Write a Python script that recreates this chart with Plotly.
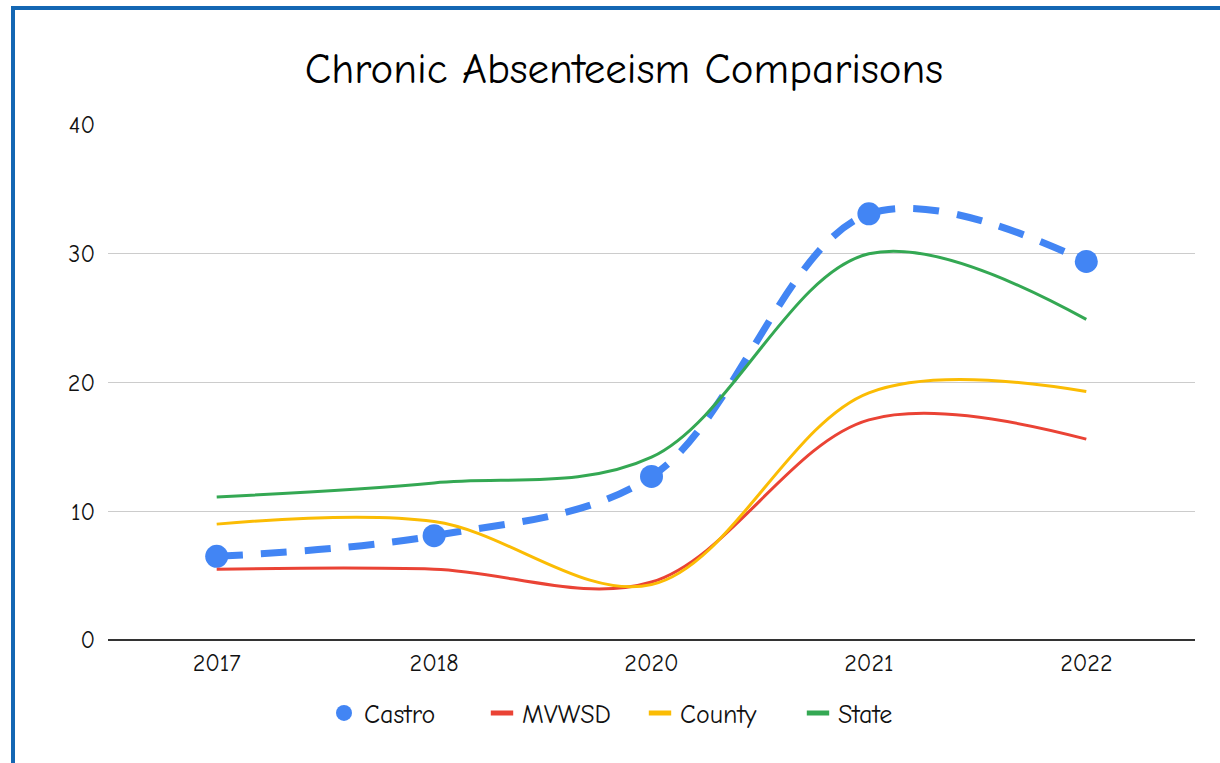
import plotly.graph_objects as go

# School years shown on the category axis
years = ["2017", "2018", "2020", "2021", "2022"]

# Chronic absenteeism rate (%) per group
castro = [6.5, 8.1, 12.7, 33.1, 29.4]
mvwsd = [5.5, 5.5, 4.5, 17.1, 15.6]
county = [9.0, 9.2, 4.3, 19.2, 19.3]
state = [11.1, 12.2, 14.2, 30.0, 24.9]

y_ticks = [0, 10, 20, 30, 40]

FONT = "Comic Sans MS, Comic Neue, Chalkboard, Lato, sans-serif"

fig = go.Figure()

line_series = [
    ("MVWSD", mvwsd, "#EA4335"),
    ("County", county, "#FBBC04"),
    ("State", state, "#34A853"),
]

# Castro: thick dashed smoothed line with round markers
fig.add_trace(go.Scatter(
    x=years, y=castro, name="Castro", mode="lines+markers",
    line=dict(color="#4285F4", width=7, dash="26px,18px", shape="spline", smoothing=1),
    marker=dict(color="#4285F4", size=23),
    showlegend=False,
))

for name, vals, color in line_series:
    fig.add_trace(go.Scatter(
        x=years, y=vals, name=name, mode="lines",
        line=dict(color=color, width=3, shape="spline", smoothing=1),
        showlegend=False,
    ))

# legend keys: round dot for Castro, short thick bars for the others
fig.add_trace(go.Scatter(
    x=[None], y=[None], name="Castro", mode="markers",
    marker=dict(color="#4285F4", size=25),
))
for name, _, color in line_series:
    fig.add_trace(go.Scatter(
        x=[None], y=[None], name=name, mode="markers",
        marker=dict(symbol="line-ew", size=26, line=dict(color=color, width=7)),
    ))

# plot area geometry (pixels) used for the outer frame
L, R, T, B = 108, 25, 125, 123
W, H = 1220, 763
pw, ph = W - L - R, H - T - B

def px_x(x):
    return (x - L) / pw

def px_y(y):
    return (H - B - y) / ph

fig.add_shape(
    type="rect", xref="paper", yref="paper",
    x0=px_x(13), x1=px_x(1250), y0=px_y(790), y1=px_y(8),
    line=dict(color="#1467B3", width=4), fillcolor="rgba(0,0,0,0)",
    layer="below",
)

fig.update_layout(
    width=W, height=H,
    margin=dict(l=L, r=R, t=T, b=B),
    paper_bgcolor="white", plot_bgcolor="white",
    title=dict(
        text="Chronic Absenteeism Comparisons",
        font=dict(family=FONT, size=43, color="#000000"),
        xref="container", x=624 / W, xanchor="center",
        yref="container", y=1 - 68 / H, yanchor="middle",
    ),
    legend=dict(
        orientation="h",
        xref="container", x=640 / W, xanchor="center",
        yref="container", y=1 - 713 / H, yanchor="middle",
        font=dict(family=FONT, size=26, color="#111111"),
        itemwidth=30, traceorder="normal",
        entrywidth=113, entrywidthmode="pixels",
    ),
    xaxis=dict(
        type="category", range=[-0.5, 4.5],
        showgrid=False, showline=False, zeroline=False,
        ticks="", tickfont=dict(family=FONT, size=24, color="#111111"),
        ticklabelstandoff=6,
    ),
    yaxis=dict(
        range=[0, 40], tickvals=y_ticks,
        showgrid=True, gridcolor="#CCCCCC", gridwidth=1,
        zeroline=True, zerolinecolor="#333333", zerolinewidth=2,
        showline=False, ticks="",
        tickfont=dict(family=FONT, size=24, color="#111111"),
        ticklabelstandoff=12,
    ),
)

fig.write_html("out.html")
